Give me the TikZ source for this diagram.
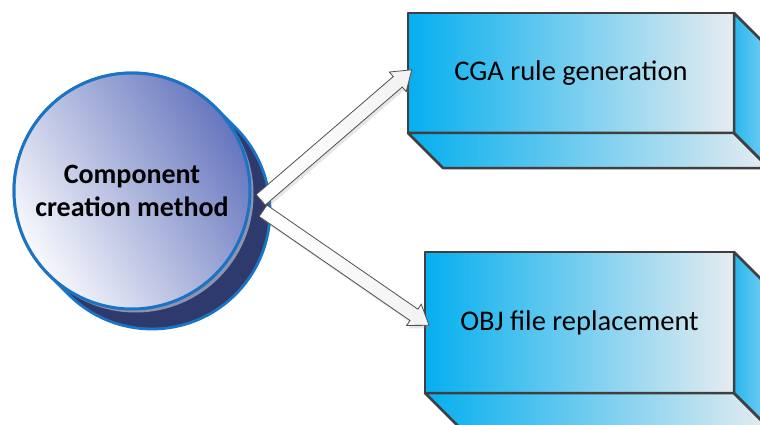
\documentclass[tikz,border=0pt]{standalone}
\usepackage{fontspec}
\setmainfont{Carlito}
\usetikzlibrary{shapes.arrows,shadows,calc}
\definecolor{navy}{HTML}{2E3A6B}
\definecolor{ringblue}{HTML}{1A73C4}
\definecolor{ringgray}{HTML}{8E94B0}
\definecolor{cdark}{HTML}{6676BE}
\definecolor{cmid}{HTML}{B3BADF}
\definecolor{clight}{HTML}{F8F9FD}
\definecolor{cyanA}{HTML}{05AFEF}
\definecolor{paleA}{HTML}{E6ECF0}
\definecolor{cyanB}{HTML}{2AB7EE}
\definecolor{paleB}{HTML}{7ACFF2}
\definecolor{edge}{HTML}{3F3F3F}
\definecolor{arrowedge}{HTML}{505050}
\begin{document}
\begin{tikzpicture}[x=1pt,y=1pt,
  face/.style={draw=edge, line width=2.5pt, line join=round, left color=cyanA, right color=paleA},
  sideface/.style={draw=edge, line width=2.5pt, line join=round, left color=cyanB, right color=paleB},
  boxnode/.style={face, rectangle, anchor=north west, inner sep=0pt, outer sep=0pt,
    font=\fontsize{28.5}{34}\selectfont},
  blockarr/.style={single arrow, draw=arrowedge, line width=0.8pt, left color=white, right color=black!5,
    single arrow head extend=6pt, single arrow tip angle=70,
    inner xsep=0pt, inner ysep=6.5pt, outer sep=0pt,
    drop shadow={shadow xshift=2pt, shadow yshift=-3pt, opacity=.2}}
]
\useasboundingbox (0,0) rectangle (760,-425);
\clip (0,0) rectangle (760,-425);

% cylinder body behind the disc
\fill[navy, draw=ringblue, line width=2.8pt]
  (215.44,-107.56) -- (235.44,-127.56) arc[start angle=45, end angle=-135, radius=118pt]
  -- (48.56,-274.44) arc[start angle=225, end angle=45, radius=118pt] -- cycle;
\fill[ringgray] (135.5,-194.5) circle[radius=118pt];
\node[circle, minimum size=236pt, inner sep=0pt, draw=ringblue, line width=3pt,
  shading=axis, top color=cdark, middle color=cmid, bottom color=clight, shading angle=-58,
  font=\bfseries\fontsize{28}{33}\selectfont, align=center] (comp) at (132,-191)
  {Component\\creation method};

% upper box
\node[boxnode, minimum width=326pt, minimum height=120pt] (cga) at (408,-13) {CGA rule generation};
\draw[face] (cga.south west) -- (cga.south east) -- ++(35,-35) -- ($(cga.south west)+(35,-35)$) -- cycle;
\draw[sideface] (cga.north east) -- ++(35,-35) -- ($(cga.south east)+(35,-35)$) -- (cga.south east) -- cycle;

% lower box
\node[boxnode, minimum width=309pt, minimum height=141pt] (obj) at (425,-252) {OBJ file replacement};
\draw[face] (obj.south west) -- (obj.south east) -- ++(35,-35) -- ($(obj.south west)+(35,-35)$) -- cycle;
\draw[sideface] (obj.north east) -- ++(35,-35) -- ($(obj.south east)+(35,-35)$) -- (obj.south east) -- cycle;

% block arrows
\coordinate (t1) at (257,-203);
\coordinate (t2) at (259,-208);
\path let \p1=(t1), \p2=(cga.west), \n1={atan2(\y2-\y1,\x2-\x1)}, \n2={veclen(\x2-\x1,\y2-\y1)} in
  node[blockarr, minimum height=\n2, rotate=\n1] (a1) at ($(\p1)!.5!(\p2)$) {};
\path let \p1=(t2), \p2=(obj.west), \n1={atan2(\y2-\y1,\x2-\x1)}, \n2={veclen(\x2-\x1,\y2-\y1)} in
  node[blockarr, minimum height=\n2, rotate=\n1] (a2) at ($(\p1)!.5!(\p2)$) {};
\end{tikzpicture}
\end{document}
